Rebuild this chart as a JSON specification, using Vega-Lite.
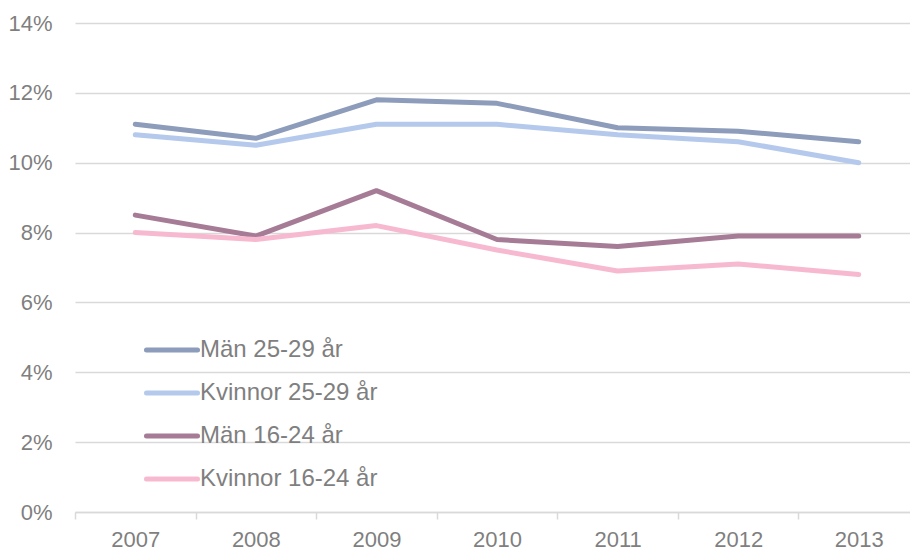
{
  "$schema": "https://vega.github.io/schema/vega-lite/v6.json",
  "autosize": "none",
  "width": 844,
  "height": 489,
  "padding": {"left": 75, "top": 23, "right": 0, "bottom": 38},
  "background": "white",
  "config": {
    "view": {"stroke": null},
    "font": "Liberation Sans",
    "axis": {"labelFont": "Liberation Sans", "labelColor": "#7F7F7F", "labelFontSize": 22}
  },
  "data": {
    "values": [
      {"year": "2007", "series": "Män 25-29 år", "value": 0.111},
      {"year": "2008", "series": "Män 25-29 år", "value": 0.107},
      {"year": "2009", "series": "Män 25-29 år", "value": 0.118},
      {"year": "2010", "series": "Män 25-29 år", "value": 0.117},
      {"year": "2011", "series": "Män 25-29 år", "value": 0.110},
      {"year": "2012", "series": "Män 25-29 år", "value": 0.109},
      {"year": "2013", "series": "Män 25-29 år", "value": 0.106},
      {"year": "2007", "series": "Kvinnor 25-29 år", "value": 0.108},
      {"year": "2008", "series": "Kvinnor 25-29 år", "value": 0.105},
      {"year": "2009", "series": "Kvinnor 25-29 år", "value": 0.111},
      {"year": "2010", "series": "Kvinnor 25-29 år", "value": 0.111},
      {"year": "2011", "series": "Kvinnor 25-29 år", "value": 0.108},
      {"year": "2012", "series": "Kvinnor 25-29 år", "value": 0.106},
      {"year": "2013", "series": "Kvinnor 25-29 år", "value": 0.100},
      {"year": "2007", "series": "Män 16-24 år", "value": 0.085},
      {"year": "2008", "series": "Män 16-24 år", "value": 0.079},
      {"year": "2009", "series": "Män 16-24 år", "value": 0.092},
      {"year": "2010", "series": "Män 16-24 år", "value": 0.078},
      {"year": "2011", "series": "Män 16-24 år", "value": 0.076},
      {"year": "2012", "series": "Män 16-24 år", "value": 0.079},
      {"year": "2013", "series": "Män 16-24 år", "value": 0.079},
      {"year": "2007", "series": "Kvinnor 16-24 år", "value": 0.080},
      {"year": "2008", "series": "Kvinnor 16-24 år", "value": 0.078},
      {"year": "2009", "series": "Kvinnor 16-24 år", "value": 0.082},
      {"year": "2010", "series": "Kvinnor 16-24 år", "value": 0.075},
      {"year": "2011", "series": "Kvinnor 16-24 år", "value": 0.069},
      {"year": "2012", "series": "Kvinnor 16-24 år", "value": 0.071},
      {"year": "2013", "series": "Kvinnor 16-24 år", "value": 0.068}
    ]
  },
  "mark": {"type": "line", "strokeWidth": 5, "strokeJoin": "round", "strokeCap": "round"},
  "encoding": {
    "x": {
      "field": "year", "type": "ordinal", "bandPosition": 0.5,
      "scale": {"type": "band", "paddingInner": 0, "paddingOuter": 0},
      "axis": {
        "title": null, "labelAngle": 0, "grid": false,
        "domainColor": "#D9D9D9", "domainWidth": 1.5,
        "tickColor": "#D9D9D9", "tickWidth": 1.5, "tickSize": 7, "tickBand": "extent",
        "labelPadding": 10
      }
    },
    "y": {
      "field": "value", "type": "quantitative",
      "scale": {"domain": [0, 0.14], "nice": false},
      "axis": {
        "title": null, "format": ".0%", "values": [0, 0.02, 0.04, 0.06, 0.08, 0.1, 0.12, 0.14],
        "domain": false, "ticks": false, "labelPadding": 23,
        "gridColor": "#D9D9D9", "gridWidth": 1.5
      }
    },
    "color": {
      "field": "series", "type": "nominal",
      "scale": {
        "domain": ["Män 25-29 år", "Kvinnor 25-29 år", "Män 16-24 år", "Kvinnor 16-24 år"],
        "range": ["#8C9CBA", "#B4C9EC", "#A67B96", "#F7B9CF"]
      },
      "legend": {
        "title": null, "orient": "none", "legendX": 66, "legendY": 296,
        "symbolType": "M-0.895,0H0.895", "symbolSize": 3249, "symbolStrokeWidth": 5,
        "labelFont": "Liberation Sans", "labelFontSize": 24, "labelColor": "#7F7F7F",
        "labelOffset": -3, "labelLimit": 400, "rowPadding": -1.7,
        "encode": {"symbols": {"update": {"strokeCap": {"value": "round"}, "fill": {"value": "transparent"}}}}
      }
    }
  }
}
